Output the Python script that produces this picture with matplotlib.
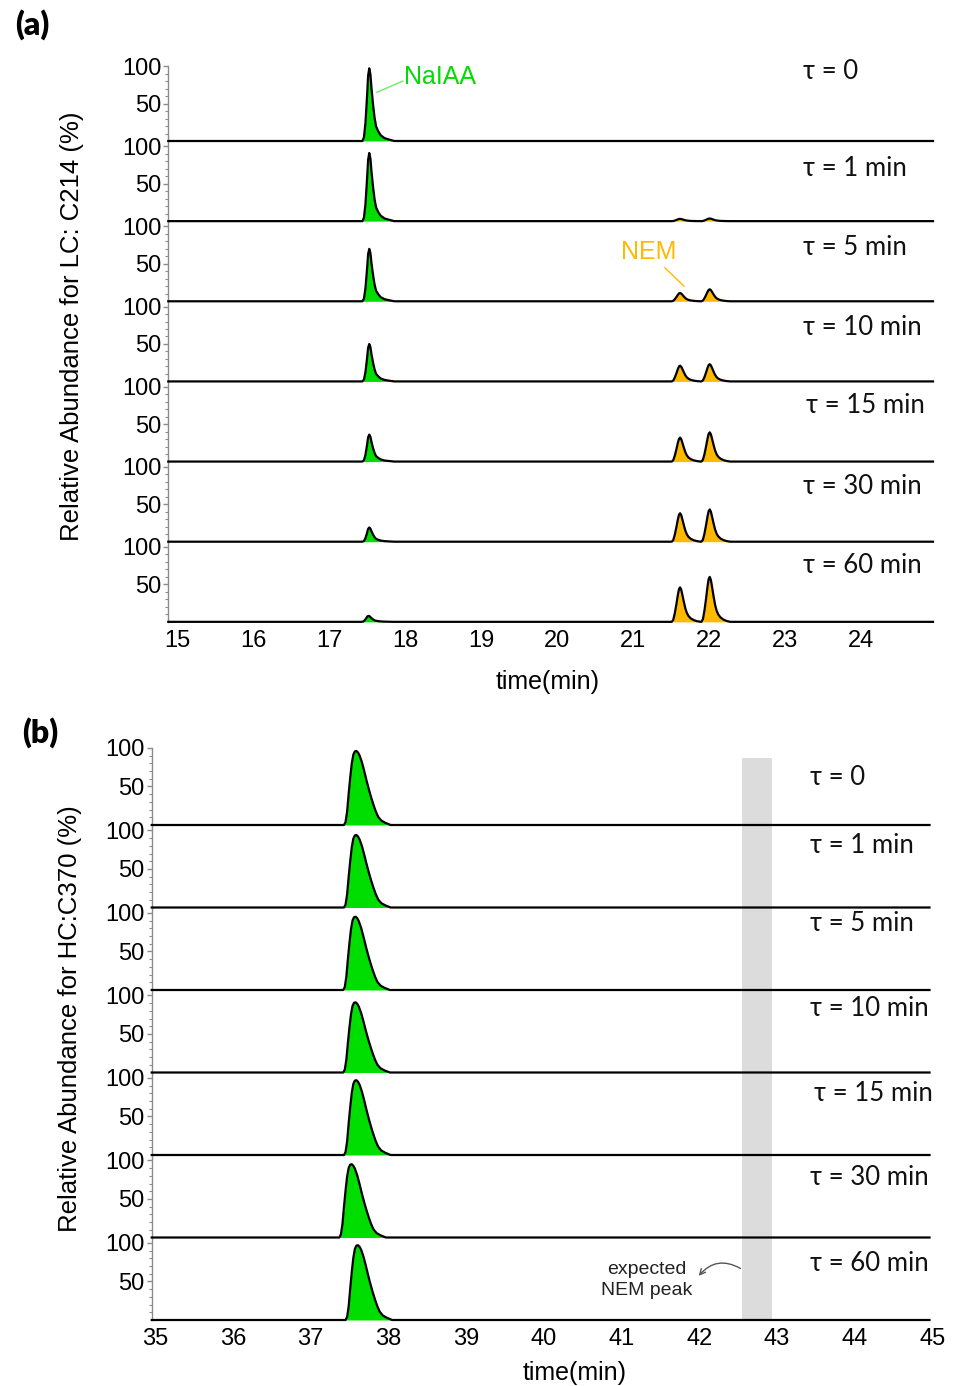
import numpy as np
import matplotlib
matplotlib.use("Agg")
import matplotlib.pyplot as plt
from matplotlib.ticker import MultipleLocator, FixedLocator

plt.rcParams['font.family'] = ['Liberation Sans', 'DejaVu Sans']

# ---------------- data ----------------
tau_labels = ["τ = 0", "τ = 1 min", "τ = 5 min", "τ = 10 min",
              "τ = 15 min", "τ = 30 min", "τ = 60 min"]

# panel (a) LC: C214
a_xticks = [15, 16, 17, 18, 19, 20, 21, 22, 23, 24]
a_naiaa_rt = [17.53, 17.53, 17.53, 17.53, 17.53, 17.53, 17.52]
a_naiaa_h = [97, 91, 70, 50, 36, 19, 8]
a_nem1_rt = [21.62, 21.62, 21.62, 21.62, 21.62, 21.62, 21.62]
a_nem1_h = [0, 3, 11, 21, 32, 38, 46]
a_nem2_rt = [22.01, 22.01, 22.01, 22.01, 22.01, 22.01, 22.01]
a_nem2_h = [0, 3.5, 16, 23, 39, 43, 60]

# panel (b) HC: C370
b_xticks = [35, 36, 37, 38, 39, 40, 41, 42, 43, 44, 45]
b_peak_rt = [37.59, 37.59, 37.58, 37.58, 37.59, 37.53, 37.61]
b_peak_h = [96, 94, 95, 91, 97, 95, 97]
b_band = [42.55, 42.93]

# peak profiles (offset from apex in min, relative height)
prof_naiaa_off = [-0.09, -0.07, -0.05, -0.03, -0.015, 0.0, 0.015, 0.03, 0.05,
                  0.07, 0.09, 0.12, 0.15, 0.20, 0.26, 0.33]
prof_naiaa_rel = [0.0, 0.05, 0.25, 0.60, 0.90, 1.0, 0.92, 0.72, 0.50,
                  0.32, 0.20, 0.13, 0.08, 0.04, 0.02, 0.0]
prof_nem_off = [-0.11, -0.09, -0.07, -0.05, -0.03, -0.015, 0.0, 0.015, 0.03,
                0.05, 0.07, 0.09, 0.11, 0.14, 0.18, 0.22, 0.27]
prof_nem_rel = [0.0, 0.06, 0.25, 0.50, 0.78, 0.95, 1.0, 0.93, 0.78,
                0.57, 0.38, 0.25, 0.17, 0.10, 0.05, 0.02, 0.0]
prof_b_off = [-0.16, -0.14, -0.12, -0.10, -0.08, -0.06, -0.04, -0.02, 0.0,
              0.02, 0.04, 0.07, 0.10, 0.13, 0.16, 0.19, 0.22, 0.25, 0.28,
              0.32, 0.37, 0.44]
prof_b_rel = [0.0, 0.04, 0.18, 0.42, 0.64, 0.83, 0.95, 0.995, 1.0,
              0.98, 0.94, 0.85, 0.73, 0.60, 0.48, 0.37, 0.27, 0.18, 0.11,
              0.06, 0.03, 0.0]

# ---------------- style ----------------
GREEN = "#00dd00"
ORANGE = "#ffb900"
GREY_SPINE = "#8c8c8c"
W, H = 956, 1386

fig = plt.figure(figsize=(W / 100, H / 100), dpi=100)


def px_axes(left, top, right, bottom):
    return fig.add_axes([left / W, 1 - bottom / H, (right - left) / W, (bottom - top) / H])


def peak_xy(rt, h, off, rel):
    return [rt + o for o in off], [h * r for r in rel]


def style_row(ax, xlim, first, last, xticks):
    ax.set_xlim(*xlim)
    ax.set_ylim(0, 107)
    for s in ["top", "right", "bottom"]:
        ax.spines[s].set_visible(False)
    ax.spines["left"].set_color(GREY_SPINE)
    ax.spines["left"].set_linewidth(1.0)
    if first:
        ax.spines["left"].set_bounds(0, 100)
    ax.yaxis.set_major_locator(FixedLocator([50, 100]))
    ax.set_yticklabels(["50", "100"])
    ax.yaxis.set_minor_locator(FixedLocator([10, 20, 30, 40, 60, 70, 80, 90]))
    ax.tick_params(axis="y", which="major", length=3.6, width=1.0, color=GREY_SPINE,
                   labelsize=17, pad=1.5)
    ax.tick_params(axis="y", which="minor", length=2.2, width=0.8, color=GREY_SPINE)
    ax.xaxis.set_major_locator(FixedLocator(xticks))
    if last:
        ax.tick_params(axis="x", length=0, labelsize=17, pad=6)
        ax.set_xticklabels([str(t) for t in xticks])
    else:
        ax.tick_params(axis="x", length=0, labelbottom=False)
    ax.patch.set_alpha(0)


TAU_FONT = dict(family=["Lato", "DejaVu Sans"], fontsize=18.5, ha="left",
                va="center", color="#111111")

# ---------------- panel (a) ----------------
a_xlim = (14.886, 24.947)
a_step = 80.14
a_tau_x = [23.24, 23.24, 23.24, 23.24, 23.28, 23.24, 23.24]
a_tau_y = [93, 70, 72, 72, 75, 74, 75]
for i in range(7):
    bottom = 141 + a_step * i
    ax = px_axes(168.3, bottom - a_step, 933, bottom)
    ax.set_zorder(20 - i)
    style_row(ax, a_xlim, i == 0, i == 6, a_xticks)
    xs, ys = [a_xlim[0]], [0.0]
    px, py = peak_xy(a_naiaa_rt[i], a_naiaa_h[i], prof_naiaa_off, prof_naiaa_rel)
    ax.fill_between(px, 0, py, color=GREEN, lw=0, zorder=2)
    xs += px; ys += py
    for rt, hh in ((a_nem1_rt[i], a_nem1_h[i]), (a_nem2_rt[i], a_nem2_h[i])):
        if hh > 0:
            px, py = peak_xy(rt, hh, prof_nem_off, prof_nem_rel)
            ax.fill_between(px, 0, py, color=ORANGE, lw=0, zorder=2)
            xs += px; ys += py
    xs.append(a_xlim[1]); ys.append(0.0)
    ax.plot(xs, ys, color="black", lw=1.6, zorder=3, clip_on=False,
            solid_joinstyle="round")
    ax.text(a_tau_x[i], a_tau_y[i], tau_labels[i], **TAU_FONT)
    if i == 0:
        ax.plot([17.63, 17.97], [65, 80], color="#66ee66", lw=1.0)
        ax.text(17.99, 86, "NaIAA", color=GREEN, fontsize=18, ha="left", va="center")
    if i == 2:
        ax.plot([21.42, 21.67], [44.6, 20.3], color=ORANGE, lw=1.0)
        ax.text(21.21, 66, "NEM", color=ORANGE, fontsize=18, ha="center", va="center")

fig.text(548 / W, 1 - 682 / H, "time(min)", fontsize=18, ha="center", va="center")
fig.text(72 / W, 1 - 326 / H, "Relative Abundance for LC: C214 (%)", fontsize=18.5,
         rotation=90, ha="center", va="center")
fig.text(32 / W, 1 - 25 / H, "(a)", fontsize=23, fontweight="heavy",
         family=["Lato", "DejaVu Sans"], ha="center", va="center")

# ---------------- panel (b) ----------------
b_xlim = (34.957, 45.0)
b_step = 82.5
b_tau_x = [43.42, 43.42, 43.42, 43.42, 43.47, 43.42, 43.42]
b_tau_y = [61, 80, 86, 83, 80, 78, 73]
for i in range(7):
    bottom = 825 + b_step * i
    ax = px_axes(151.7, bottom - b_step, 932.6, bottom)
    ax.set_zorder(20 - i)
    style_row(ax, b_xlim, i == 0, i == 6, b_xticks)
    if i == 0:
        ax.axvspan(b_band[0], b_band[1], ymin=0, ymax=87 / 107, color="#dcdcdc", lw=0, zorder=1)
    else:
        ax.axvspan(b_band[0], b_band[1], ymin=0, ymax=1, color="#dcdcdc", lw=0, zorder=1)
    px, py = peak_xy(b_peak_rt[i], b_peak_h[i], prof_b_off, prof_b_rel)
    ax.fill_between(px, 0, py, color=GREEN, lw=0, zorder=2)
    xs = [b_xlim[0]] + px + [44.96]
    ys = [0.0] + py + [0.0]
    ax.plot(xs, ys, color="black", lw=1.6, zorder=3, clip_on=False,
            solid_joinstyle="round")
    ax.text(b_tau_x[i], b_tau_y[i], tau_labels[i], **TAU_FONT)
    if i == 6:
        ax.text(41.32, 52, "expected\nNEM peak", fontsize=14, ha="center", va="center",
                color="#222222", linespacing=1.25)
        ax.annotate("", xy=(41.97, 54.5), xytext=(42.56, 65),
                    arrowprops=dict(arrowstyle="->", color="#555555", lw=1.0,
                                    connectionstyle="arc3,rad=0.45"))

fig.text(575 / W, 1 - 1373 / H, "time(min)", fontsize=18, ha="center", va="center")
fig.text(70 / W, 1 - 1019 / H, "Relative Abundance for HC:C370 (%)", fontsize=18.5,
         rotation=90, ha="center", va="center")
fig.text(40 / W, 1 - 733 / H, "(b)", fontsize=23, fontweight="heavy",
         family=["Lato", "DejaVu Sans"], ha="center", va="center")

fig.savefig("out.png", dpi=100)
